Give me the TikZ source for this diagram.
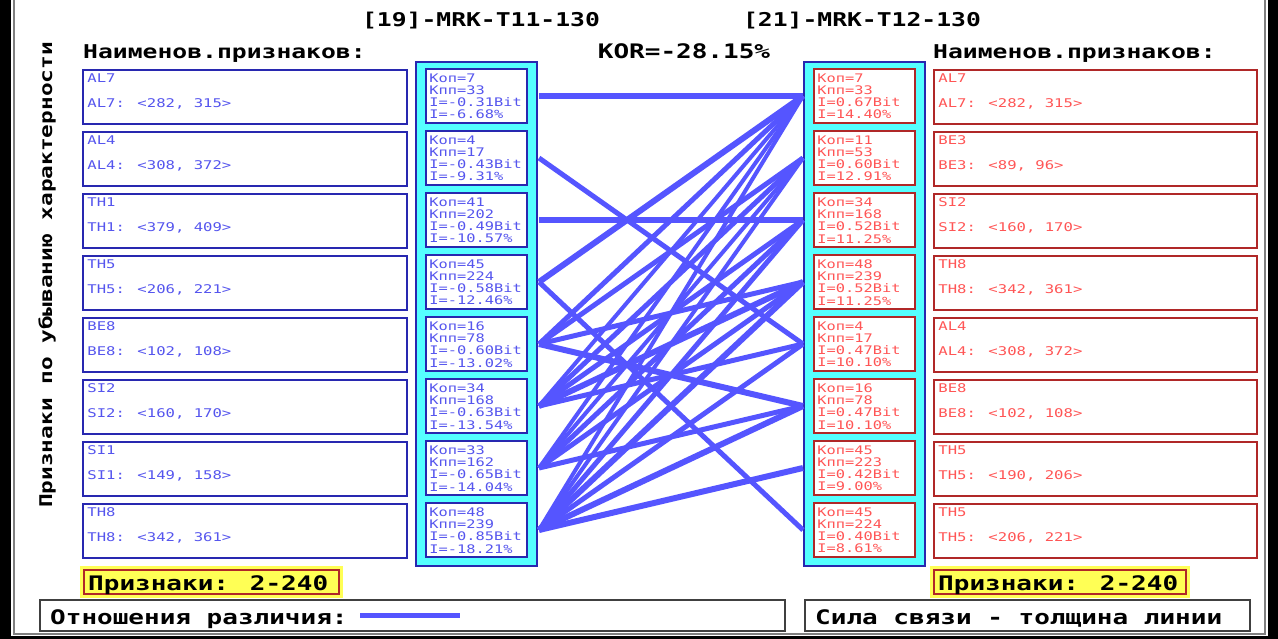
\documentclass[tikz,border=0pt]{standalone}
\usepackage{fontspec}
\usetikzlibrary{calc}
\newfontfamily\pix[FakeStretch=1.3]{DejaVu Sans Mono}
\definecolor{lblue}{HTML}{5555EE}
\definecolor{dblue}{HTML}{2828B0}
\definecolor{cyanf}{HTML}{55FFFF}
\definecolor{lred}{HTML}{FF5555}
\definecolor{dred}{HTML}{B02828}
\definecolor{ylw}{HTML}{FFFF55}
\definecolor{conncol}{HTML}{5555FF}
\definecolor{gline}{HTML}{808080}
\begin{document}
\begin{tikzpicture}[x=1pt,y=-1pt,
  lbox/.style={draw=dblue,line width=1.6pt,fill=white,minimum width=324pt,minimum height=54pt,inner sep=0pt},
  rbox/.style={draw=dred,line width=1.6pt,fill=white,minimum width=323pt,minimum height=54pt,inner sep=0pt},
  lstat/.style={draw=dblue,line width=1.6pt,fill=white,minimum width=101pt,minimum height=54pt,inner sep=0pt},
  rstat/.style={draw=dred,line width=1.6pt,fill=white,minimum width=101pt,minimum height=54pt,inner sep=0pt},
  col/.style={draw=dblue,line width=1.6pt,fill=cyanf,minimum width=121pt,minimum height=504pt,inner sep=0pt},
  btxt/.style={font=\pix\fontsize{12}{12}\selectfont,inner sep=0pt,anchor=base west},
  stxt/.style={font=\pix\fontsize{11.8}{12.3}\selectfont,inner sep=0pt,anchor=north west,align=left},
  head/.style={font=\pix\bfseries\fontsize{19}{19}\selectfont,inner sep=0pt,text=black},
  conn/.style={draw=conncol,line cap=butt},
  ybox/.style={fill=ylw,minimum width=263pt,minimum height=32pt,inner sep=0pt},
  yin/.style={draw=dred,line width=1.4pt,minimum width=255pt,minimum height=24pt,inner sep=0pt},
  bbox/.style={draw=black!75,line width=1.4pt,fill=white,minimum height=31pt,inner sep=0pt}]
\useasboundingbox (0,0) rectangle (1278,639);
\fill[white] (0,0) rectangle (1278,639);
% window frame
\fill[black] (0,0) rectangle (11,639);
\fill[black] (1268,0) rectangle (1278,639);
\fill[black] (0,636) rectangle (1278,639);
\draw[gline,line width=1.5pt] (14,0) -- (14,634) -- (1265,634) -- (1265,0);
% titles
\node[head,anchor=base] (t1) at (481,27) {[19]-MRK-T11-130};
\node[head,anchor=base] (t2) at (862,27) {[21]-MRK-T12-130};
\node[head,anchor=base,font=\pix\bfseries\fontsize{20}{20}\selectfont] (kor) at (684,59) {KOR=-28.15\%};
\node[head,anchor=base west] (hl) at (83,59) {Наименов.признаков:};
\node[head,anchor=base west] (hr) at (933,59) {Наименов.признаков:};
\node[head,rotate=90,font=\pix\bfseries\fontsize{17.5}{17.5}\selectfont] (vt) at (47,275) {Признаки по убыванию характерности};
% columns
\node[col] (cl) at (476.5,314) {};
\node[col] (cr) at (864.5,314) {};
% left boxes
\foreach \i/\a/\b in {1/AL7/{AL7: <282, 315>},2/AL4/{AL4: <308, 372>},3/TH1/{TH1: <379, 409>},4/TH5/{TH5: <206, 221>},5/BE8/{BE8: <102, 108>},6/SI2/{SI2: <160, 170>},7/SI1/{SI1: <149, 158>},8/TH8/{TH8: <342, 361>}}{
  \node[lbox] (lf\i) at (245,{97+62*(\i-1)}) {};
  \node[btxt,text=lblue] (lfa\i) at ($(lf\i.north west)+(5,13)$) {\a};
  \node[btxt,text=lblue] (lfb\i) at ($(lf\i.north west)+(5,38)$) {\b};
}
\foreach \i/\a/\b in {1/AL7/{AL7: <282, 315>},2/BE3/{BE3: <89, 96>},3/SI2/{SI2: <160, 170>},4/TH8/{TH8: <342, 361>},5/AL4/{AL4: <308, 372>},6/BE8/{BE8: <102, 108>},7/TH5/{TH5: <190, 206>},8/TH5/{TH5: <206, 221>}}{
  \node[rbox] (rf\i) at (1095.5,{97+62*(\i-1)}) {};
  \node[btxt,text=lred] (rfa\i) at ($(rf\i.north west)+(5,13)$) {\a};
  \node[btxt,text=lred] (rfb\i) at ($(rf\i.north west)+(5,38)$) {\b};
}
% left stats
\foreach \i/\t in {1/{Коп=7\\Кпп=33\\I=-0.31Bit\\I=-6.68\%},2/{Коп=4\\Кпп=17\\I=-0.43Bit\\I=-9.31\%},3/{Коп=41\\Кпп=202\\I=-0.49Bit\\I=-10.57\%},4/{Коп=45\\Кпп=224\\I=-0.58Bit\\I=-12.46\%},5/{Коп=16\\Кпп=78\\I=-0.60Bit\\I=-13.02\%},6/{Коп=34\\Кпп=168\\I=-0.63Bit\\I=-13.54\%},7/{Коп=33\\Кпп=162\\I=-0.65Bit\\I=-14.04\%},8/{Коп=48\\Кпп=239\\I=-0.85Bit\\I=-18.21\%}}{
  \node[lstat] (ls\i) at (476.5,{96+62*(\i-1)}) {};
  \node[stxt,text=lblue] (lst\i) at ($(ls\i.north west)+(4,5)$) {\t};
}
\foreach \i/\t in {1/{Коп=7\\Кпп=33\\I=0.67Bit\\I=14.40\%},2/{Коп=11\\Кпп=53\\I=0.60Bit\\I=12.91\%},3/{Коп=34\\Кпп=168\\I=0.52Bit\\I=11.25\%},4/{Коп=48\\Кпп=239\\I=0.52Bit\\I=11.25\%},5/{Коп=4\\Кпп=17\\I=0.47Bit\\I=10.10\%},6/{Коп=16\\Кпп=78\\I=0.47Bit\\I=10.10\%},7/{Коп=45\\Кпп=223\\I=0.42Bit\\I=9.00\%},8/{Коп=45\\Кпп=224\\I=0.40Bit\\I=8.61\%}}{
  \node[rstat] (rs\i) at (864.5,{96+62*(\i-1)}) {};
  \node[stxt,text=lred] (rst\i) at ($(rs\i.north west)+(4,5)$) {\t};
}
% connector ends
\foreach \i in {1,...,8}{
  \coordinate (a\i) at (539,{96+62*(\i-1)});
  \coordinate (b\i) at (803,{96+62*(\i-1)});
}
\foreach \i/\j/\w in {1/1/6,2/5/5,3/3/6,4/1/6,4/8/5,5/1/5,5/2/5,5/4/5,5/6/6,6/1/4,6/2/5,6/3/5,6/4/6,6/5/5,7/1/4,7/2/4,7/3/5,7/4/5,7/6/5,8/1/4,8/2/4,8/3/5,8/4/6,8/5/5,8/6/6,8/7/6}{
  \draw[conn,line width=\w pt] (a\i) -- (b\j);
}
% yellow boxes
\node[ybox] (yl) at (211.5,582) {};
\node[yin] (yli) at (211.5,582) {};
\node[head,anchor=base west,font=\pix\bfseries\fontsize{20}{20}\selectfont] (ylt) at (88,590) {Признаки: 2-240};
\node[ybox,minimum width=260pt] (yr) at (1060,582) {};
\node[yin,minimum width=252pt] (yri) at (1060,582) {};
\node[head,anchor=base west,font=\pix\bfseries\fontsize{20}{20}\selectfont] (yrt) at (938,590) {Признаки: 2-240};
% bottom boxes
\node[bbox,minimum width=745pt] (bl) at (412.5,615.5) {};
\node[head,anchor=base west,font=\pix\bfseries\fontsize{20}{20}\selectfont] (blt) at (50,624) {Отношения различия:};
\coordinate (lg1) at (360,615);
\coordinate (lg2) at (460,615);
\draw[conn,line width=5pt] (lg1) -- (lg2);
\node[bbox,minimum width=445pt] (br) at (1027.5,615.5) {};
\node[head,anchor=base west,font=\pix\bfseries\fontsize{20}{20}\selectfont] (brt) at (815,624) {Сила связи - толщина линии};
\end{tikzpicture}
\end{document}
